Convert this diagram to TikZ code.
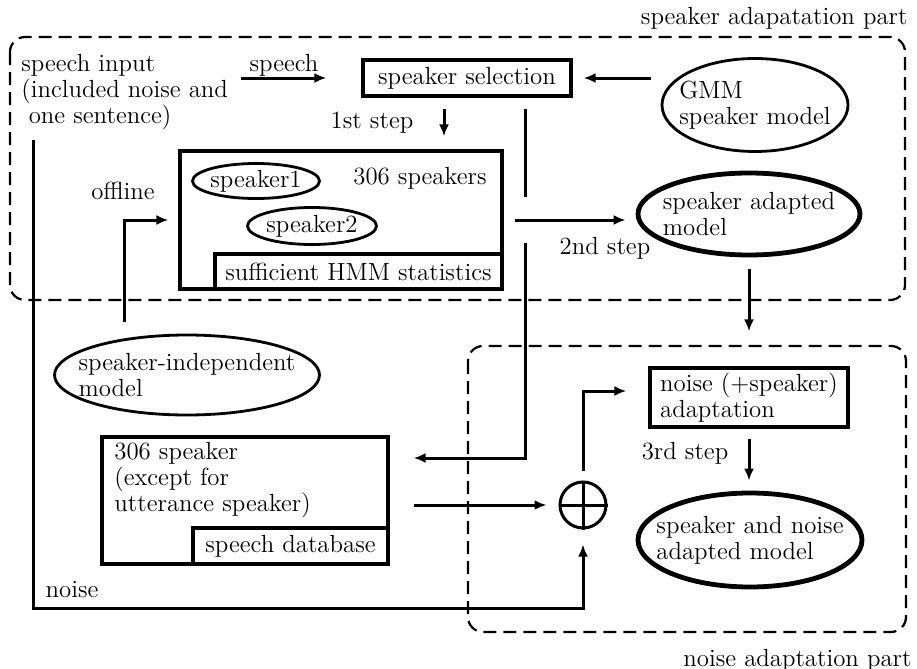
\documentclass[tikz,border=0pt]{standalone}
\usetikzlibrary{arrows.meta,shapes.geometric}
\begin{document}
\begin{tikzpicture}[x=0.5pt,y=-0.5pt,
        font=\fontsize{12.4}{13}\selectfont,
        box/.style={draw,line width=1.6pt,inner sep=0pt},
        oval/.style={draw,ellipse,line width=1.4pt,inner sep=0pt},
        thickoval/.style={oval,line width=2.4pt},
        region/.style={draw,line width=1.1pt,dash pattern=on 6.5pt off 3.5pt,rounded corners=7.5pt},
        arr/.style={line width=1.5pt,-{Latex[length=6pt,width=5pt]}}]
        \useasboundingbox (0,0) rectangle (917,669);

        % the two parts
        \draw[region] (10,37) rectangle (905,300);
        \draw[region] (468,346) rectangle (906,632);
        \node[anchor=east,inner sep=0pt] (spkpart) at (908,18) {speaker adapatation part};
        \node[anchor=east,inner sep=0pt] (noisepart) at (912,660) {noise adaptation part};

        \node[align=left,anchor=west,inner sep=0pt] (input) at (21,92) {speech input\\(included noise and\\\hspace{0.3em}one sentence)};
        \node[box,minimum width=104pt,minimum height=18pt] (sel) at (467,78) {speaker selection};
        \node[oval,minimum width=93pt,minimum height=46.5pt,
              label={[align=left,inner sep=0pt]center:GMM\\speaker model}] (gmm) at (755,105) {};

        \node[box,minimum width=161pt,minimum height=69pt] (hmm) at (341,220) {};
        \node[box,minimum width=143.5pt,minimum height=17.5pt] (stat) at (358.5,271.5) {sufficient HMM statistics};
        \node[oval,minimum width=63.5pt,minimum height=17.5pt,label={[inner sep=0pt]center:speaker1}] (spk1) at (256,181) {};
        \node[oval,minimum width=64.5pt,minimum height=18.5pt,label={[inner sep=0pt]center:speaker2}] (spk2) at (312,226) {};
        \node[anchor=west,inner sep=0pt] (count) at (353,178) {306 speakers};

        \node[thickoval,minimum width=111pt,minimum height=41pt,
              label={[align=left,inner sep=0pt]center:speaker adapted\\model}] (sa) at (749,214) {};
        \node[oval,minimum width=132.5pt,minimum height=40pt,
              label={[align=left,inner sep=0pt]center:speaker-independent\\model}] (si) at (187,375) {};

        \node[box,minimum width=143pt,minimum height=63.5pt] (db) at (245,500.5) {};
        \node[align=left,anchor=west,inner sep=0pt] (dbtext) at (114,480) {306 speaker\\(except for\\utterance speaker)};
        \node[box,minimum width=97.5pt,minimum height=18pt] (sdb) at (290.5,546) {speech database};

        \node[circle,draw,line width=1.5pt,minimum size=23pt,inner sep=0pt] (plus) at (583,505) {};
        \draw[line width=1.5pt] (plus.north) -- (plus.south) (plus.west) -- (plus.east);

        \node[box,align=left,minimum width=99pt,minimum height=29.5pt] (na) at (749,397.5) {noise (+speaker)\\adaptation};
        \node[thickoval,minimum width=112pt,minimum height=47pt,
              label={[align=left,inner sep=0pt]center:speaker and noise\\adapted model}] (sna) at (750,540) {};

        % labels on the arrows
        \node[inner sep=0pt] (speechlbl) at (284,65) {speech};
        \node[inner sep=0pt] (step1) at (372,123) {1st step};
        \node[inner sep=0pt] (step2) at (605,248) {2nd step};
        \node[inner sep=0pt] (step3) at (685,453) {3rd step};
        \node[inner sep=0pt] (offline) at (123,191) {offline};
        \node[inner sep=0pt] (noiselbl) at (72,590) {noise};

        \coordinate (noisetop) at (33,140);
        \coordinate (noisecorner) at (33,608);

        \draw[arr,shorten <=6.5pt,shorten >=17.5pt] (input.east |- sel.west) -- (sel.west);
        \draw[arr,shorten <=5pt,shorten >=5.5pt] (gmm.west |- sel.east) -- (sel.east);
        \draw[arr,shorten <=5.5pt,shorten >=6.5pt] ([xshift=-11.5pt]sel.south) -- ([xshift=-11.5pt]sel.south |- hmm.north);
        \draw[arr,shorten <=5.5pt,shorten >=12pt] ([xshift=29pt]sel.south) |- ([yshift=21.25pt]db.east);
        \fill[white] (518,197) rectangle (532,243);
        \draw[arr,shorten <=5.5pt,shorten >=5pt] (hmm.east) -- (hmm.east -| sa.west);
        \draw[arr,shorten <=6pt,shorten >=17.5pt] (sa.south) -- (sa.south |- na.north);
        \draw[arr,shorten <=5pt,shorten >=5pt] (na.south) -- (na.south |- sna.north);
        \draw[arr,shorten <=6pt,shorten >=5pt] ([xshift=-31.5pt]si.north) |- (hmm.west);
        \draw[arr,shorten <=12pt,shorten >=6pt] (db.east |- plus.west) -- (plus.west);
        \draw[arr,shorten <=5pt,shorten >=11pt] (plus.north) |- ([yshift=3.25pt]na.west);
        \draw[arr,shorten >=7.5pt] (noisetop) -- (noisecorner) -| (plus.south);
\end{tikzpicture}
\end{document}
